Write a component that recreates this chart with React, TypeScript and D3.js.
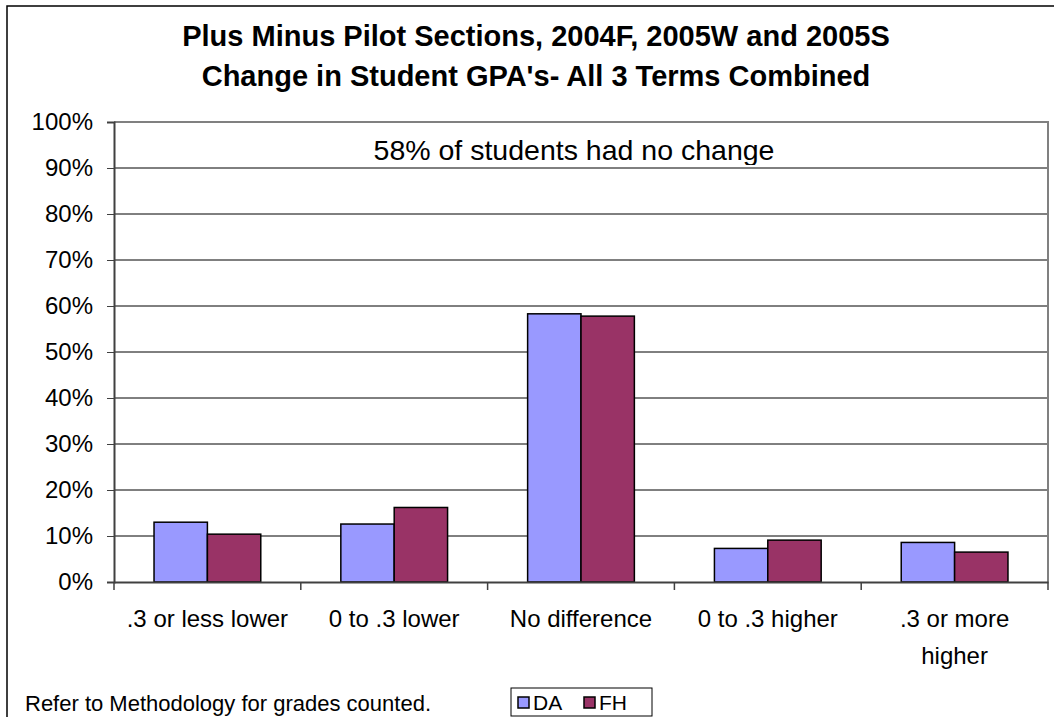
import React, { useEffect, useRef } from "react";
import * as d3 from "d3";

const categories = [".3 or less lower", "0 to .3 lower", "No difference", "0 to .3 higher", ".3 or more higher"];
const categoryLines = [[".3 or less lower"], ["0 to .3 lower"], ["No difference"], ["0 to .3 higher"], [".3 or more", "higher"]];
const seriesNames = ["DA", "FH"];
const daValues = [13.0, 12.6, 58.3, 7.3, 8.6];
const fhValues = [10.4, 16.2, 57.8, 9.1, 6.5];
const yTicks = [0, 10, 20, 30, 40, 50, 60, 70, 80, 90, 100];
const titleLines = ["Plus Minus Pilot Sections, 2004F, 2005W and 2005S", "Change in Student GPA's- All 3 Terms Combined"];
const noteText = "58% of students had no change";
const footText = "Refer to Methodology for grades counted.";

const colors = ["#9999FF", "#993366"];
const FONT = "'Liberation Sans', Arial, sans-serif";

function App() {
  const ref = useRef<HTMLDivElement>(null);

  useEffect(() => {
    const W = 1054, H = 717;
    const left = 114, right = 1048, top = 122, bottom = 582;

    const svg = d3.select(ref.current).append("svg").attr("width", W).attr("height", H)
      .style("display", "block").style("font-family", FONT);

    svg.append("rect").attr("width", W).attr("height", H).attr("fill", "white");
    // outer chart border (clipped on right/bottom)
    svg.append("rect").attr("x", 7).attr("y", 6).attr("width", 1200).attr("height", 900)
      .attr("fill", "none").attr("stroke", "#000").attr("stroke-width", 1.5);

    // title
    svg.append("g").selectAll("text").data(titleLines).join("text")
      .attr("x", 536).attr("y", (d, i) => 46 + i * 40)
      .attr("text-anchor", "middle").attr("font-weight", "bold").attr("font-size", 29)
      .text(d => d);

    const x = d3.scaleBand().domain(categories).range([left, right]).padding(0);
    const xs = d3.scaleBand().domain(seriesNames).range([0, x.bandwidth()]).paddingInner(0).paddingOuter(0.75);
    const y = d3.scaleLinear().domain([0, 100]).range([bottom, top]);

    // gridlines
    svg.append("g").selectAll("line").data(yTicks.filter(t => t > 0 && t < 100)).join("line")
      .attr("x1", left).attr("x2", right).attr("y1", d => y(d)).attr("y2", d => y(d))
      .attr("stroke", "#000").attr("stroke-width", 1);

    // plot border top/right
    svg.append("path").attr("d", `M${left},${top}H${right}V${bottom}`)
      .attr("fill", "none").attr("stroke", "#808080").attr("stroke-width", 2);

    // note text clipped to the text box
    svg.append("clipPath").attr("id", "noteclip").append("rect")
      .attr("x", 0).attr("y", 0).attr("width", W).attr("height", 165);
    svg.append("text").attr("clip-path", "url(#noteclip)")
      .attr("x", 574).attr("y", 160).attr("text-anchor", "middle").attr("font-size", 28.5)
      .text(noteText);

    // bars
    const rows = categories.map((c, i) => ({ cat: c, vals: [daValues[i], fhValues[i]] }));
    const groups = svg.append("g").selectAll("g").data(rows).join("g")
      .attr("transform", d => `translate(${x(d.cat)},0)`);
    groups.selectAll("rect").data(d => d.vals.map((v, j) => ({ s: seriesNames[j], v, j }))).join("rect")
      .attr("x", d => xs(d.s)!).attr("width", xs.bandwidth())
      .attr("y", d => y(d.v)).attr("height", d => y(0) - y(d.v))
      .attr("fill", d => colors[d.j]).attr("stroke", "#000").attr("stroke-width", 1.5);

    // y axis
    const yAxis = svg.append("g").attr("transform", `translate(${left},0)`)
      .call(d3.axisLeft(y).tickValues(yTicks).tickSize(7).tickPadding(14).tickFormat(d => `${d}%`));
    yAxis.select(".domain").attr("stroke", "#404040").attr("stroke-width", 2);
    yAxis.selectAll(".tick line").attr("stroke", "#404040");
    yAxis.selectAll(".tick text").attr("font-size", 24).attr("font-family", FONT).attr("fill", "#000");

    // x axis
    const xAxis = svg.append("g").attr("transform", `translate(0,${bottom})`)
      .call(d3.axisBottom(x).tickSize(0).tickFormat(() => ""));
    xAxis.select(".domain").attr("stroke", "#404040").attr("stroke-width", 2);
    xAxis.selectAll(".tick").remove();
    const bounds = d3.range(categories.length + 1).map(i => left + i * x.step());
    xAxis.append("g").selectAll("line").data(bounds).join("line")
      .attr("x1", d => d).attr("x2", d => d).attr("y1", 0).attr("y2", 8)
      .attr("stroke", "#404040").attr("stroke-width", 1.5);

    const labels = svg.append("g").selectAll("text").data(categories).join("text")
      .attr("x", d => x(d)! + x.bandwidth() / 2).attr("y", 627)
      .attr("text-anchor", "middle").attr("font-size", 24);
    labels.selectAll("tspan").data((d, i) => categoryLines[i]).join("tspan")
      .attr("x", function () { return (this.parentNode as SVGTextElement).getAttribute("x"); })
      .attr("dy", (d, i) => (i === 0 ? 0 : 37)).text(d => d);

    // footnote
    svg.append("text").attr("x", 25).attr("y", 711).attr("font-size", 22).text(footText);

    // legend
    const lg = svg.append("g").attr("transform", "translate(511,688)");
    lg.append("rect").attr("width", 141).attr("height", 28).attr("fill", "white")
      .attr("stroke", "#000").attr("stroke-width", 1);
    const items = lg.selectAll("g").data(seriesNames).join("g")
      .attr("transform", (d, i) => `translate(${7 + i * 66},0)`);
    items.append("rect").attr("x", 0).attr("y", 9).attr("width", 11).attr("height", 11)
      .attr("fill", (d, i) => colors[i]).attr("stroke", "#000").attr("stroke-width", 1.5);
    items.append("text").attr("x", 15).attr("y", 22).attr("font-size", 21).text(d => d);

    return () => {
      d3.select(ref.current).selectChild().remove();
    };
  }, []);

  return (
    <div style={{ position: "absolute", left: 0, top: 0 }}>
      <div ref={ref}></div>
    </div>
  );
}

export default App;
